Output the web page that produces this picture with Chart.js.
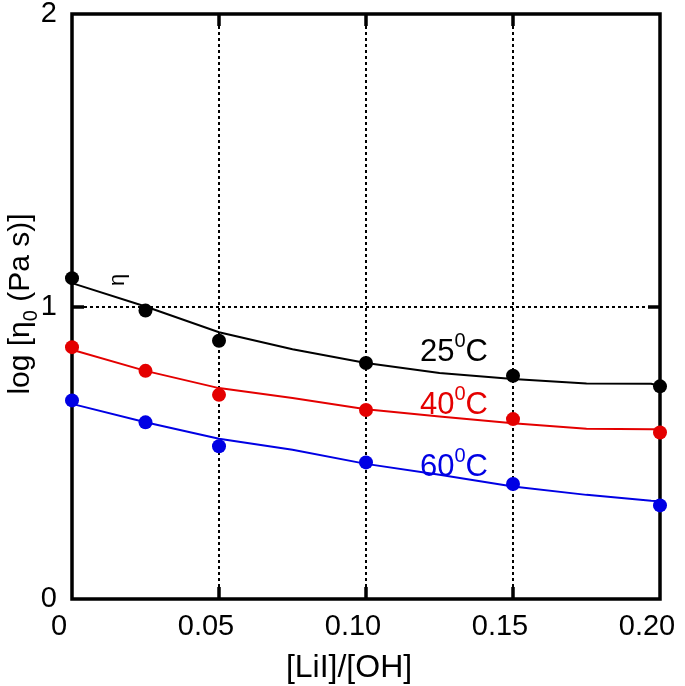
<!DOCTYPE html>
<html>
<head>
<meta charset="utf-8">
<script src="https://cdn.jsdelivr.net/npm/chart.js@4.4.0/dist/chart.umd.min.js"></script>
<style>
html,body{margin:0;padding:0;background:#fff;}
#wrap{width:685px;height:686px;position:relative;}
</style>
</head>
<body>
<div id="wrap"><canvas id="c" width="685" height="686"></canvas></div>
<script>
// measured points
const xPoints = [0, 0.025, 0.05, 0.10, 0.15, 0.20];
const eta25 = [1.097, 0.986, 0.883, 0.807, 0.763, 0.727];
const eta40 = [0.861, 0.780, 0.698, 0.646, 0.615, 0.569];
const eta60 = [0.679, 0.604, 0.522, 0.467, 0.393, 0.320];
// fitted curves
const xFit = [0, 0.025, 0.05, 0.075, 0.10, 0.125, 0.15, 0.175, 0.197, 0.20];
const fit25 = [1.080, 1.000, 0.912, 0.854, 0.807, 0.773, 0.752, 0.737, 0.736, 0.728];
const fit40 = [0.852, 0.780, 0.721, 0.687, 0.649, 0.624, 0.601, 0.582, 0.580, 0.580];
const fit60 = [0.667, 0.604, 0.548, 0.510, 0.462, 0.425, 0.385, 0.356, 0.336, 0.334];
// ticks
const xTicks = [0, 0.05, 0.10, 0.15, 0.20];
const xTickLabels = ['0', '0.05', '0.10', '0.15', '0.20'];
const yTicks = [0, 1, 2];
const yTickLabels = ['0', '1', '2'];
const xGrid = [0.05, 0.10, 0.15];
const yGrid = [1];

const BLACK = '#000000', RED = 'rgb(228,0,0)', BLUE = 'rgb(0,0,228)';
const FONT = '"Liberation Sans", Arial, Helvetica, sans-serif';

function pts(xs, ys){ return xs.map((x,i)=>({x:x, y:ys[i]})); }

const frame = {
  id:'frame',
  beforeDatasetsDraw(chart){
    const ctx = chart.ctx, a = chart.chartArea;
    const xs = chart.scales.x, ys = chart.scales.y;
    ctx.save();
    ctx.strokeStyle = BLACK; ctx.lineWidth = 2; ctx.setLineDash([3,3]);
    xGrid.forEach(v=>{ const p = Math.round(xs.getPixelForValue(v));
      ctx.beginPath(); ctx.moveTo(p, a.top); ctx.lineTo(p, a.bottom); ctx.stroke(); });
    yGrid.forEach(v=>{ const p = Math.round(ys.getPixelForValue(v));
      ctx.beginPath(); ctx.moveTo(a.left, p); ctx.lineTo(a.right, p); ctx.stroke(); });
    ctx.setLineDash([]);
    ctx.lineWidth = 3.5;
    xGrid.forEach(v=>{ const p = Math.round(xs.getPixelForValue(v));
      ctx.beginPath(); ctx.moveTo(p, a.top); ctx.lineTo(p, a.top+12); ctx.stroke();
      ctx.beginPath(); ctx.moveTo(p, a.bottom); ctx.lineTo(p, a.bottom-12); ctx.stroke(); });
    yGrid.forEach(v=>{ const p = Math.round(ys.getPixelForValue(v));
      ctx.beginPath(); ctx.moveTo(a.left, p); ctx.lineTo(a.left+12, p); ctx.stroke();
      ctx.beginPath(); ctx.moveTo(a.right, p); ctx.lineTo(a.right-12, p); ctx.stroke(); });
    ctx.lineWidth = 3.5;
    ctx.strokeRect(a.left, a.top, a.right-a.left, a.bottom-a.top);
    ctx.restore();
  },
  afterDraw(chart){
    const ctx = chart.ctx;
    ctx.save();
    ctx.textBaseline = 'alphabetic';
    function sup(x, y, parts, color){
      ctx.fillStyle = color;
      let cx = x;
      parts.forEach(p=>{
        ctx.font = p.size + 'px ' + FONT;
        ctx.fillText(p.t, cx, y + (p.dy||0));
        cx += ctx.measureText(p.t).width;
      });
    }
    sup(420, 361, [{t:'25',size:31},{t:'0',size:20,dy:-14},{t:'C',size:31}], BLACK);
    sup(420, 414, [{t:'40',size:31},{t:'0',size:20,dy:-14},{t:'C',size:31}], RED);
    sup(420, 476, [{t:'60',size:31},{t:'0',size:20,dy:-14},{t:'C',size:31}], BLUE);
    ctx.fillStyle = BLACK;
    ctx.font = '32px ' + FONT;
    ctx.textAlign = 'center';
    ctx.fillText('[LiI]/[OH]', 349, 677);
    ctx.textAlign = 'left';
    const parts = [{t:'log [η',size:30},{t:'0',size:20,dy:8},{t:' (Pa s)]',size:30}];
    let total = 0;
    parts.forEach(p=>{ ctx.font = p.size+'px '+FONT; total += ctx.measureText(p.t).width; });
    ctx.save();
    ctx.translate(29, 304);
    ctx.rotate(-Math.PI/2);
    let cx = -total/2;
    parts.forEach(p=>{ ctx.font = p.size+'px '+FONT; ctx.fillText(p.t, cx, p.dy||0); cx += ctx.measureText(p.t).width; });
    ctx.restore();
    ctx.save();
    ctx.translate(124, 286);
    ctx.rotate(-Math.PI/2);
    ctx.font = '22px ' + FONT;
    ctx.fillText('η', 0, 0);
    ctx.restore();
    ctx.restore();
  }
};

function lineDs(data, color){
  return {data: pts(xFit, data), showLine:true, borderColor:color, borderWidth:2, pointRadius:0, tension:0, clip:false, order:2};
}
function ptDs(data, color){
  return {data: pts(xPoints, data), showLine:false, backgroundColor:color, borderColor:color, pointRadius:7, borderWidth:0, clip:false, order:1};
}

new Chart(document.getElementById('c'), {
  type:'scatter',
  data:{datasets:[
    lineDs(fit25, BLACK), lineDs(fit40, RED), lineDs(fit60, BLUE),
    ptDs(eta25, BLACK), ptDs(eta40, RED), ptDs(eta60, BLUE)
  ]},
  options:{
    responsive:false, animation:false, devicePixelRatio:1,
    layout:{padding:{top:14, right:25, left:0, bottom:0}},
    plugins:{legend:{display:false}, tooltip:{enabled:false}},
    scales:{
      x:{type:'linear', min:0, max:0.2,
        afterBuildTicks(s){ s.ticks = xTicks.map(v=>({value:v})); },
        afterFit(s){ s.height = 87; s.paddingLeft = 0; s.paddingRight = 0; },
        grid:{display:false, drawTicks:false}, border:{display:false},
        ticks:{font:{family:FONT, size:29}, color:BLACK, padding:11, labelOffset:-13, maxRotation:0, autoSkip:false,
          callback(v, i){ return xTickLabels[i]; }}
      },
      y:{type:'linear', min:0, max:2,
        afterBuildTicks(s){ s.ticks = yTicks.map(v=>({value:v})); },
        afterFit(s){ s.width = 72; s.paddingTop = 0; s.paddingBottom = 0; },
        grid:{display:false, drawTicks:false}, border:{display:false},
        ticks:{font:{family:FONT, size:29}, color:BLACK, padding:15, autoSkip:false,
          callback(v, i){ return yTickLabels[i]; }}
      }
    }
  },
  plugins:[frame]
});
</script>
</body>
</html>
